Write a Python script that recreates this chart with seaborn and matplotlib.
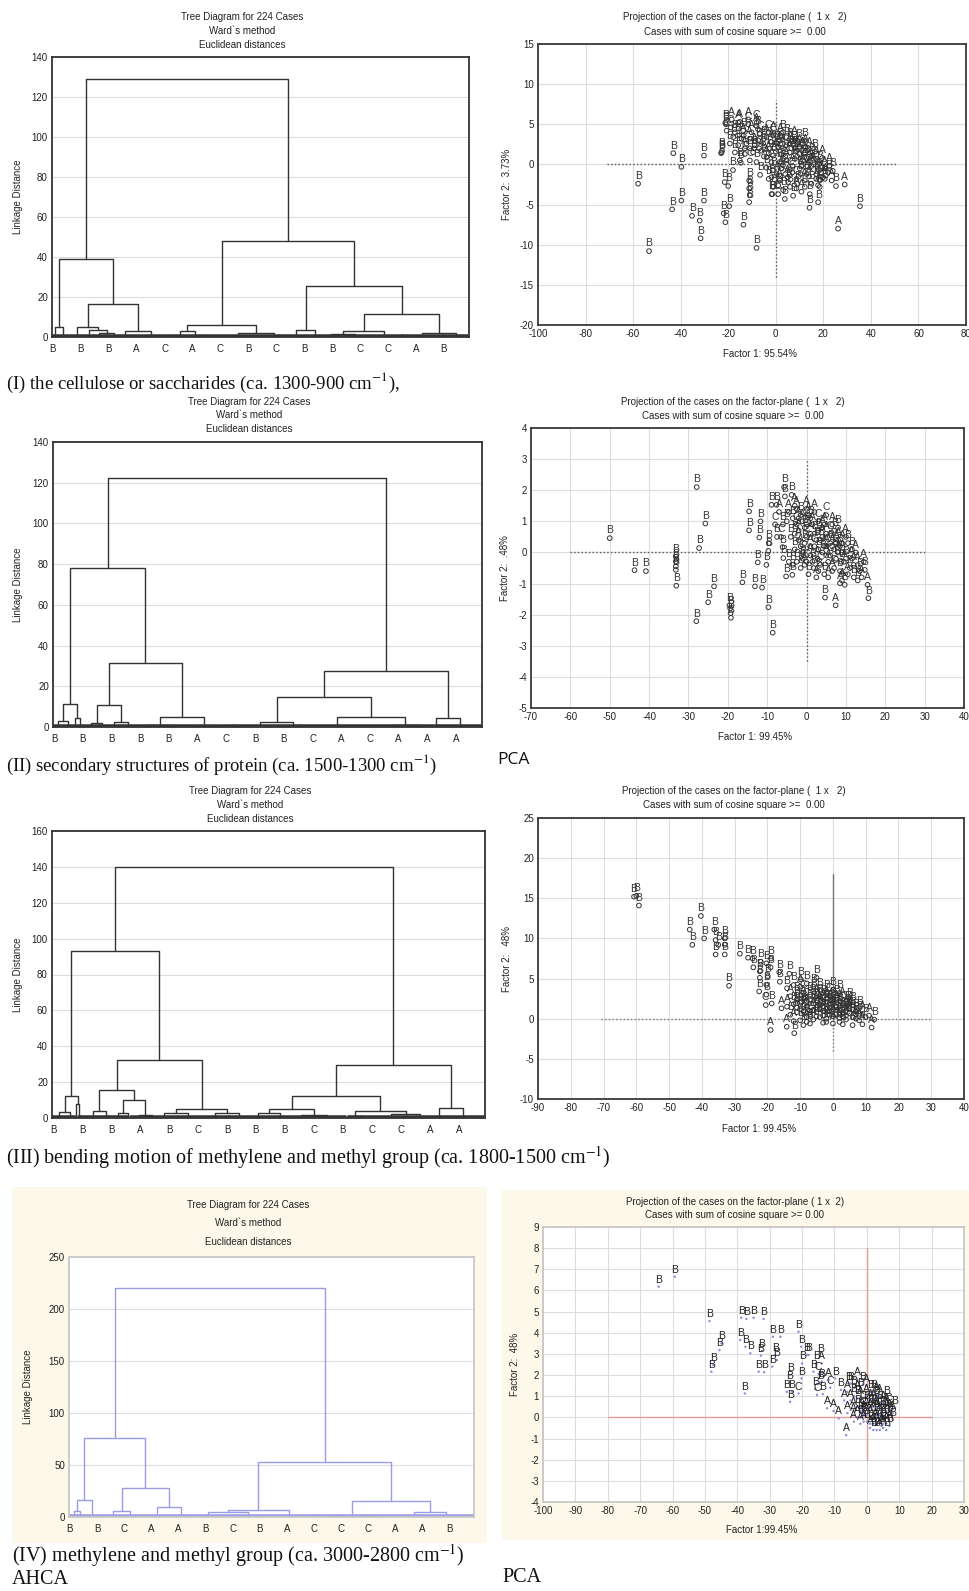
import numpy as np
import pandas as pd
import matplotlib
matplotlib.use('Agg')
import matplotlib.pyplot as plt
from matplotlib.patches import Rectangle
import seaborn as sns

# ---------------------------------------------------------------- data
# Dendrograms: node = (merge height, left, right); leaf = number of cases
TREE_I = (129.2,
          (39.0, (5.2, 3, 6),
                 (16.5, (5.0, 9, (3.5, 4, (2.0, 7, 9))), (3.2, 2, 26))),
          (48.0, (6.0, (3.0, 5, 12), (2.0, 34, 5)),
                 (25.3, (3.5, 18, 3),
                        (11.5, (3.0, (1.5, 14, 12), 19), (2.0, 22, 14)))))
TREE_II = (122.2,
           (78.3, (11.3, (3.1, 5, 6), (4.4, 1, 4)),
                  (31.2, (10.6, (1.8, 8, 3), (2.5, 10, 4)),
                         (5.0, (1.0, 16, 11), (0.5, 9, 17)))),
           (27.3, (14.7, (2.5, 28, 7), (5.0, 39, (1.0, 16, 15))),
                  (4.4, 2, 23)))
TREE_III = (140.1,
            (93.0, (12.1, (3.5, 7, 5), (8.0, 1, 2)),
                   (32.5, (15.8, (3.7, 12, 2), (9.8, (2.8, 10, 1), (1.9, 10, 3))),
                          (5.2, (2.8, 10, 15), (2.8, 13, 11)))),
            (29.5, (12.1, (5.2, (2.8, 9, 14), (1.9, 8, 19)),
                          (4.1, (1.0, 1, 16), (2.2, 13, 17))),
                   (5.6, 2, 23)))
TREE_IV = (220.0,
           (76.2, (16.6, (5.4, 5, 2), (1.0, 6, 4)),
                  (27.7, (5.4, 15, 4), (9.2, 25, 2))),
           (53.3, (7.0, (4.8, 28, 16), 29),
                  (15.0, (1.3, 15, 38), (4.8, 4, 31))))

LEAF_LAB_I = "BBBACACBCBBCCAB"
LEAF_LAB_II = "BBBBBACBBCACAAA"
LEAF_LAB_III = "BBBABCBBBCBCCAA"
LEAF_LAB_IV = "BBCAABCBACCCAAB"

# PCA score plots: (factor 1, factor 2, group)
PCA_I = [
    (-57.9, -2.4, 'B'), (-53.3, -10.8, 'B'), (-43.1, 1.4, 'B'), (-39.7, -0.3, 'B'),
    (-43.6, -5.6, 'B'), (-39.7, -4.5, 'B'), (-35.2, -6.4, 'B'), (-32.0, -7.0, 'B'),
    (-31.6, -9.2, 'B'), (-30.2, 1.1, 'B'), (-30.2, -4.5, 'B'), (-23.0, 1.4, 'B'),
    (-22.6, 1.7, 'B'), (-21.5, -2.2, 'B'), (-20.0, -2.7, 'B'), (-21.9, -6.1, 'B'),
    (-21.2, -7.2, 'B'), (-19.6, -5.2, 'B'), (-13.6, -7.5, 'B'), (-11.2, -4.7, 'B'),
    (-11.2, -2.0, 'B'), (-11.2, -3.0, 'B'), (-11.0, -3.8, 'B'), (-8.1, -10.4, 'B'),
    (-18.0, -0.7, 'B'), (-14.7, 0.2, 'B'), (-6.6, -1.3, 'B'), (26.2, -8.0, 'A'),
    (35.4, -5.2, 'B'), (29.0, -2.5, 'A'), (25.3, -2.7, 'B'), (14.2, -5.4, 'B'),
    (17.8, -4.7, 'B'), (-1.5, -3.7, 'B'), (-21.2, 5.2, 'B'), (-18.5, 5.6, 'A'),
    (-15.2, 5.3, 'A'), (-11.6, 5.6, 'A'), (-8.1, 5.2, 'C'),
    (-21.0, 5.0, 'B'), (-15.8, 5.2, 'A'), (-11.6, 5.0, 'C'), (-8.1, 4.8, 'A'),
    (-20.7, 4.2, 'C'), (-17.2, 4.0, 'B'), (-13.7, 4.2, 'B'), (-10.2, 4.0, 'A'),
    (-6.7, 3.8, 'C'), (-17.9, 3.4, 'B'), (-14.4, 3.2, 'C'), (-10.9, 3.2, 'A'),
    (-7.4, 3.0, 'B'), (-3.9, 3.4, 'A'), (-1.1, 3.6, 'C'), (-19.3, 2.6, 'B'),
    (-15.8, 2.4, 'B'), (-12.3, 2.6, 'C'), (-8.8, 2.4, 'A'), (-5.3, 2.6, 'B'),
    (-1.8, 2.8, 'A'), (1.7, 3.0, 'C'), (4.5, 3.4, 'B'), (-22.8, 1.5, 'B'),
    (-17.2, 1.5, 'B'), (-13.0, 1.3, 'C'), (-9.5, 1.5, 'B'), (-6.0, 1.7, 'A'),
    (-2.5, 2.0, 'B'), (1.0, 2.2, 'A'), (4.5, 2.4, 'C'), (7.3, 2.6, 'B'),
    (10.1, 2.2, 'A'), (-15.1, 0.5, 'B'), (-10.9, 0.5, 'C'), (-8.1, 0.3, 'B'),
    (-3.9, 0.9, 'A'), (-1.1, 1.1, 'B'), (2.4, 1.3, 'C'), (5.9, 1.5, 'A'),
    (8.7, 1.7, 'B'), (12.2, 1.5, 'A'), (15.0, 1.1, 'B'), (17.1, 0.7, 'A'),
    (-1.8, 0.3, 'C'), (1.7, 0.3, 'B'), (4.5, 0.5, 'A'), (8.0, 0.7, 'B'),
    (11.5, 0.5, 'C'), (14.3, 0.3, 'A'), (18.5, 0.1, 'B'), (20.6, -0.5, 'A'),
    (22.0, -1.0, 'B'), (-1.1, -0.7, 'B'), (2.4, -0.5, 'A'), (5.9, -0.7, 'C'),
    (10.1, -0.5, 'B'), (13.6, -0.7, 'A'), (17.1, -1.2, 'B'), (19.9, -1.6, 'A'),
    (18.5, -2.0, 'C'), (-1.8, -1.6, 'B'), (1.7, -2.0, 'A'), (5.2, -2.2, 'B'),
    (8.7, -1.8, 'C'), (12.2, -2.0, 'A'), (15.0, -2.4, 'B'), (17.8, -2.6, 'A'),
    (-1.1, -2.8, 'B'), (3.1, -3.2, 'B'), (7.3, -3.9, 'B'), (10.8, -3.4, 'A'),
    (14.3, -3.7, 'B'), (18.5, -2.8, 'B'), (-1.8, -3.7, 'B'), (1.0, -3.7, 'C'),
    (3.8, -4.3, 'B'), (8.7, -3.0, 'A'), (12.2, -2.8, 'C'), (20.6, -1.8, 'B'),
    (22.5, -0.2, 'A'), (24.0, -0.8, 'B'), (0.5, 2.6, 'B'), (3.0, 2.0, 'A'),
    (6.5, 2.0, 'B'), (9.0, 1.0, 'C'), (11.0, 1.8, 'A'), (13.0, 0.8, 'B'),
    (16.0, 0.0, 'A'), (6.0, 3.0, 'B'), (2.0, 3.6, 'A'), (-3.0, 4.0, 'C'),
    (-5.0, 3.2, 'B'), (9.5, 2.8, 'B'), (12.5, 2.2, 'A'), (16.5, 1.6, 'B'),
    (7.0, -0.2, 'A'), (4.0, -1.2, 'C'), (10.5, -1.2, 'B'), (0.5, -1.2, 'A'),
    (-4.0, -0.4, 'B'), (-9.0, 2.0, 'B'), (-13.5, 3.6, 'A'), (-7.5, 4.4, 'B'),
    (14.0, -1.5, 'A'), (19.5, 0.8, 'A'), (23.5, -2.0, 'A'),
    (0.0, 1.6, 'A'), (2.0, 2.6, 'B'), (4.0, 1.0, 'C'), (6.0, 2.6, 'A'),
    (8.0, 2.0, 'B'), (10.0, 1.3, 'A'), (12.0, 0.9, 'B'), (14.0, 1.9, 'A'),
    (16.0, 0.7, 'C'), (18.0, -0.6, 'A'), (3.0, -0.1, 'B'), (5.0, -1.6, 'A'),
    (7.0, -1.0, 'C'), (9.0, -2.4, 'B'), (11.0, -0.1, 'A'), (13.0, -1.2, 'B'),
    (15.0, -0.2, 'A'), (17.0, -1.8, 'B'), (19.0, -1.0, 'A'), (21.0, -1.4, 'A'),
    (1.0, -2.6, 'B'), (-3.0, 1.4, 'A'), (-5.0, 1.0, 'B'), (-7.0, 2.0, 'C'),
    (-11.0, 2.0, 'B'), (-13.0, 2.0, 'A'), (-16.0, 3.6, 'B'), (-19.0, 4.6, 'C'),
    (-3.0, -1.8, 'B'), (-1.0, 3.8, 'A'), (3.0, 4.0, 'B'), (8.0, 3.2, 'A'),
    (12.0, 3.0, 'B'), (6.0, -2.8, 'B'), (2.0, -1.4, 'C'),
]
PCA_II = [
    (-50.0, 0.46, 'B'), (-43.7, -0.57, 'B'), (-40.8, -0.60, 'B'), (-33.2, -0.13, 'B'),
    (-33.2, -0.29, 'B'), (-33.2, -0.45, 'B'), (-33.2, -0.56, 'B'), (-33.1, -1.07, 'B'),
    (-27.9, 2.10, 'B'), (-25.7, 0.93, 'B'), (-27.3, 0.14, 'B'), (-28.0, -2.21, 'B'),
    (-25.0, -1.60, 'B'), (-23.5, -1.09, 'B'), (-19.4, -1.80, 'B'), (-19.3, -1.95, 'B'),
    (-19.2, -2.10, 'B'), (-19.6, -1.70, 'B'), (-16.3, -0.96, 'B'), (-14.6, 1.32, 'B'),
    (-14.6, 0.71, 'B'), (-13.1, -1.09, 'B'), (-11.3, -1.13, 'B'), (-12.4, -0.32, 'B'),
    (-12.0, 0.48, 'B'), (-11.7, 1.00, 'B'), (-10.2, -0.40, 'B'), (-9.7, -1.76, 'B'),
    (-8.6, -2.58, 'B'), (-9.7, 0.05, 'B'), (-9.6, 0.30, 'B'), (-8.9, 1.53, 'B'),
    (-7.6, 1.53, 'B'), (-5.5, 1.80, 'B'), (-5.7, 2.10, 'B'), (-3.8, 1.85, 'B'),
    (-6.1, 0.17, 'B'), (-5.9, -0.18, 'B'), (-5.2, -0.77, 'B'), (-3.6, -0.72, 'B'),
    (4.7, -1.45, 'B'), (7.4, -1.70, 'A'), (15.7, -1.47, 'B'), (15.5, -1.04, 'A'),
    (14.8, -0.56, 'B'), (9.7, -1.04, 'B'), (8.5, -0.99, 'A'),
    (-4.5, 1.3, 'A'), (-3.0, 1.5, 'A'), (-1.5, 1.2, 'B'), (0.0, 1.4, 'A'),
    (1.0, 1.1, 'B'), (-2.5, 0.9, 'C'), (-0.5, 0.8, 'B'), (1.5, 0.9, 'A'),
    (3.0, 1.0, 'C'), (4.5, 0.9, 'A'), (-4.0, 0.5, 'B'), (-2.0, 0.4, 'A'),
    (0.0, 0.5, 'C'), (2.0, 0.6, 'B'), (4.0, 0.5, 'A'), (6.0, 0.6, 'C'),
    (8.0, 0.4, 'A'), (-3.0, 0.1, 'B'), (-1.0, 0.0, 'C'), (1.0, 0.2, 'A'),
    (3.0, 0.1, 'B'), (5.0, 0.2, 'A'), (7.0, 0.1, 'B'), (9.0, 0.0, 'A'),
    (10.5, 0.3, 'B'), (-2.5, -0.3, 'B'), (-0.5, -0.4, 'A'), (1.5, -0.3, 'B'),
    (3.5, -0.4, 'C'), (5.5, -0.3, 'A'), (7.5, -0.2, 'B'), (9.5, -0.3, 'A'),
    (11.5, -0.2, 'A'), (13.0, -0.4, 'A'), (0.5, -0.7, 'B'), (2.5, -0.8, 'A'),
    (4.5, -0.7, 'B'), (6.5, -0.6, 'A'), (8.5, -0.6, 'B'), (10.5, -0.7, 'A'),
    (12.0, -0.8, 'B'), (-1.5, -0.5, 'B'), (-3.5, -0.4, 'B'), (-5.0, 1.0, 'B'),
    (-6.5, 0.5, 'C'), (-7.5, 0.5, 'B'), (-8.0, 0.9, 'C'), (-7.0, 1.3, 'A'),
    (-3.5, 1.1, 'B'), (2.0, 1.3, 'A'), (5.0, 1.2, 'C'), (6.5, 0.9, 'A'),
    (8.0, 0.8, 'B'), (10.0, 0.5, 'A'), (11.5, 0.1, 'B'), (1.0, -0.1, 'A'),
    (3.5, 0.4, 'B'), (6.0, -0.1, 'C'), (-2.0, 0.7, 'A'), (-0.5, 0.3, 'B'),
    (2.8, -0.2, 'A'), (4.0, 0.0, 'B'), (5.0, 0.6, 'A'), (7.5, 0.3, 'A'),
    (8.8, -0.3, 'B'), (0.0, -0.3, 'C'), (-1.0, 1.0, 'A'), (3.0, 0.7, 'B'),
    (9.0, -0.9, 'A'), (13.5, -0.6, 'B'), (12.5, 0.0, 'A'), (14.5, -0.3, 'A'),
    (-2.0, 1.1, 'A'), (0.0, 0.9, 'B'), (2.0, 0.2, 'C'), (4.0, 0.8, 'A'),
    (6.0, 0.3, 'B'), (8.0, 0.0, 'A'), (10.0, -0.2, 'B'), (12.0, -0.4, 'A'),
    (-1.0, -0.2, 'B'), (1.0, 0.6, 'A'), (3.0, -0.6, 'B'), (5.0, -0.1, 'A'),
    (7.0, -0.5, 'C'), (9.0, 0.3, 'A'), (11.0, -0.5, 'B'), (0.5, 1.2, 'A'),
    (2.5, 0.4, 'B'), (4.5, 0.2, 'A'), (6.5, 0.2, 'A'), (8.5, 0.2, 'B'),
    (-3.0, 0.6, 'B'), (-1.5, 0.2, 'A'), (1.8, -0.5, 'B'), (5.5, -0.8, 'A'),
    (7.0, 0.7, 'B'), (13.0, -0.9, 'B'), (14.0, -0.8, 'A'), (-4.5, -0.3, 'B'),
    (-6.0, 0.9, 'B'), (-2.5, 1.4, 'A'),
]
PCA_III = [
    (-60.7, 15.2, 'B'), (-60.0, 15.3, 'B'), (-59.2, 14.1, 'B'), (-40.3, 12.8, 'B'),
    (-43.7, 11.1, 'B'), (-42.9, 9.2, 'B'), (-39.3, 10.0, 'B'), (-36.2, 11.1, 'B'),
    (-35.8, 9.8, 'B'), (-35.8, 8.0, 'B'), (-35.0, 9.2, 'B'), (-33.0, 10.0, 'B'),
    (-33.0, 9.2, 'B'), (-33.0, 8.0, 'B'), (-28.4, 8.1, 'B'), (-25.9, 7.6, 'B'),
    (-24.5, 7.5, 'B'), (-24.3, 6.4, 'B'), (-31.7, 4.1, 'B'), (-22.0, 7.1, 'B'),
    (-20.3, 6.9, 'B'), (-18.9, 7.5, 'B'), (-19.0, 6.4, 'B'), (-22.3, 5.9, 'B'),
    (-22.3, 5.1, 'B'), (-22.5, 3.4, 'B'), (-19.9, 5.3, 'B'), (-20.3, 4.2, 'B'),
    (-20.3, 3.0, 'B'), (-20.5, 1.7, 'C'), (-18.7, 1.9, 'B'), (-16.4, 5.8, 'B'),
    (-13.3, 5.6, 'B'), (-16.2, 4.6, 'B'), (-19.0, -1.4, 'A'), (-15.7, 1.3, 'A'),
    (-9.8, 4.9, 'B'), (-5.0, 5.1, 'B'), (-11.8, -1.8, 'B'), (-14.1, -1.0, 'A'),
    (4.5, 1.9, 'B'), (12.6, -0.1, 'B'), (11.8, -1.1, 'A'),
    (-14.0, 3.8, 'B'), (-12.0, 4.2, 'B'), (-10.0, 4.0, 'A'), (-8.0, 4.4, 'B'),
    (-6.0, 4.0, 'B'), (-4.0, 3.5, 'B'), (-2.0, 3.3, 'B'), (0.0, 3.6, 'B'),
    (2.0, 3.2, 'B'), (-13.0, 2.8, 'A'), (-11.0, 3.0, 'B'), (-9.0, 3.2, 'C'),
    (-7.0, 3.0, 'B'), (-5.0, 2.8, 'A'), (-3.0, 2.6, 'B'), (-1.0, 2.9, 'C'),
    (1.0, 2.6, 'B'), (3.0, 2.4, 'A'), (5.0, 2.2, 'B'), (-14.0, 1.5, 'A'),
    (-12.0, 1.8, 'B'), (-10.0, 2.0, 'B'), (-8.0, 2.2, 'C'), (-6.0, 1.9, 'B'),
    (-4.0, 1.7, 'A'), (-2.0, 2.0, 'B'), (0.0, 1.8, 'C'), (2.0, 1.6, 'B'),
    (4.0, 1.5, 'A'), (6.0, 1.7, 'B'), (8.0, 1.3, 'B'), (-13.0, 0.5, 'B'),
    (-11.0, 0.8, 'A'), (-9.0, 0.9, 'B'), (-7.0, 1.0, 'C'), (-5.0, 0.8, 'B'),
    (-3.0, 1.0, 'A'), (-1.0, 0.9, 'B'), (1.0, 1.1, 'C'), (3.0, 0.8, 'B'),
    (5.0, 0.7, 'A'), (7.0, 0.9, 'B'), (9.0, 0.6, 'A'), (10.0, 0.2, 'B'),
    (-12.0, -0.3, 'A'), (-10.0, -0.2, 'B'), (-8.0, 0.2, 'B'), (-6.0, -0.1, 'A'),
    (-4.0, 0.2, 'C'), (-2.0, 0.0, 'B'), (0.0, 0.3, 'A'), (2.0, 0.1, 'B'),
    (4.0, -0.1, 'C'), (6.0, 0.2, 'B'), (8.0, -0.2, 'A'), (-7.0, -0.6, 'B'),
    (-3.0, -0.5, 'B'), (0.0, -0.6, 'A'), (3.0, -0.7, 'B'), (6.0, -0.8, 'B'),
    (9.0, -0.7, 'A'), (-1.0, 1.4, 'B'), (1.0, 2.0, 'A'), (-3.0, 1.5, 'C'),
    (-5.0, 2.3, 'B'), (-8.0, 1.5, 'A'), (-6.0, 3.4, 'B'), (-2.0, 2.5, 'A'),
    (2.0, 0.5, 'A'), (4.0, 1.0, 'C'), (-10.0, 1.2, 'B'), (-9.0, -0.8, 'B'),
    (7.0, 0.0, 'A'), (11.0, 0.4, 'A'),
    (-11.0, 2.4, 'B'), (-9.0, 2.6, 'A'), (-7.0, 2.4, 'B'), (-5.0, 1.4, 'B'),
    (-3.0, 2.1, 'A'), (-1.0, 1.9, 'B'), (1.0, 1.5, 'B'), (3.0, 1.9, 'C'),
    (5.0, 1.3, 'B'), (-11.0, 1.4, 'A'), (-9.0, 1.6, 'B'), (-7.0, 0.5, 'C'),
    (-5.0, 0.3, 'B'), (-3.0, 0.4, 'A'), (-1.0, 0.5, 'B'), (1.0, 0.5, 'C'),
    (3.0, 0.3, 'B'), (5.0, 1.2, 'A'), (7.0, 0.5, 'B'), (-6.0, 1.1, 'A'),
    (-4.0, 1.2, 'B'), (-2.0, 1.2, 'B'), (0.0, 1.2, 'A'), (2.0, 1.2, 'B'),
    (0.0, 2.4, 'B'), (-2.0, -0.4, 'B'), (2.0, -0.4, 'A'), (4.0, 0.4, 'B'),
    (-8.0, -0.4, 'A'), (6.0, 1.1, 'B'), (8.0, 0.6, 'B'), (-4.0, 2.8, 'B'),
]
PCA_IV = [
    (-64.3, 6.18, 'B'), (-59.3, 6.65, 'B'), (-48.6, 4.55, 'B'), (-45.5, 3.18, 'B'),
    (-44.9, 3.50, 'B'), (-48.0, 2.16, 'B'), (-47.4, 2.47, 'B'), (-38.8, 4.71, 'B'),
    (-37.2, 4.65, 'B'), (-35.0, 4.71, 'B'), (-31.9, 4.65, 'B'), (-39.1, 3.66, 'B'),
    (-37.5, 3.34, 'B'), (-36.0, 3.03, 'B'), (-32.4, 3.14, 'B'), (-32.7, 2.92, 'B'),
    (-29.0, 3.81, 'B'), (-26.7, 3.81, 'B'), (-28.3, 2.95, 'B'), (-27.8, 2.71, 'B'),
    (-29.2, 2.40, 'B'), (-33.4, 2.16, 'B'), (-31.7, 2.13, 'B'), (-37.7, 1.13, 'B'),
    (-21.1, 4.05, 'B'), (-20.3, 3.34, 'B'), (-18.5, 2.95, 'B'), (-18.0, 2.95, 'B'),
    (-20.0, 2.55, 'B'), (-20.2, 1.84, 'B'), (-23.9, 1.65, 'B'), (-23.7, 2.00, 'B'),
    (-24.7, 1.21, 'B'), (-23.1, 1.21, 'B'), (-21.1, 1.13, 'C'), (-23.7, 0.74, 'B'),
    (-15.6, 2.55, 'B'), (-13.9, 2.55, 'A'), (-14.4, 2.90, 'B'), (-16.5, 2.16, 'B'),
    (-14.9, 2.05, 'C'), (-11.8, 1.77, 'A'), (-9.8, 1.84, 'B'), (-14.4, 1.65, 'B'),
    (-13.9, 1.70, 'B'), (-11.3, 1.40, 'C'), (-15.9, 1.34, 'B'), (-15.4, 1.06, 'C'),
    (-13.6, 1.10, 'B'), (-12.3, 0.43, 'A'), (-10.3, 0.30, 'A'), (-8.7, -0.05, 'A'),
    (-6.4, -0.84, 'A'), (-1.2, 1.56, 'B'), (-5.7, 1.60, 'B'), (7.0, 0.50, 'C'),
    (8.7, 0.45, 'B'), (-4.1, 0.10, 'A'),
    (-6.0, 1.2, 'A'), (-4.0, 1.4, 'B'), (-2.0, 1.3, 'B'), (0.0, 1.0, 'A'),
    (-5.0, 0.8, 'A'), (-3.0, 0.9, 'B'), (-1.0, 0.7, 'C'), (1.0, 0.8, 'A'),
    (3.0, 0.9, 'B'), (5.0, 0.7, 'A'), (-4.0, 0.4, 'A'), (-2.0, 0.3, 'B'),
    (0.0, 0.4, 'A'), (2.0, 0.5, 'B'), (4.0, 0.4, 'C'), (6.0, 0.3, 'A'),
    (-3.0, 0.0, 'A'), (-1.0, 0.1, 'B'), (1.0, 0.0, 'A'), (3.0, 0.1, 'B'),
    (5.0, 0.0, 'A'), (7.0, 0.1, 'B'), (-2.0, -0.3, 'A'), (0.0, -0.2, 'B'),
    (2.0, -0.3, 'A'), (4.0, -0.2, 'B'), (6.0, -0.3, 'A'), (8.0, -0.1, 'B'),
    (1.0, -0.5, 'A'), (3.0, -0.6, 'B'), (5.0, -0.5, 'A'), (-5.0, 1.6, 'B'),
    (-3.0, 1.8, 'A'), (-7.0, 0.8, 'A'), (-8.0, 1.3, 'B'), (2.0, 1.2, 'B'),
    (4.0, 1.0, 'A'), (6.0, 0.9, 'B'), (0.0, 1.5, 'A'), (-1.0, 0.4, 'C'),
    (1.0, 0.3, 'A'), (3.0, 0.5, 'A'), (5.0, 0.2, 'B'), (2.5, -0.1, 'A'),
    (4.5, -0.4, 'A'), (7.0, -0.4, 'B'), (-6.0, 0.2, 'A'), (-4.0, -0.2, 'A'),
    (6.5, 0.6, 'C'),
    (-4.0, 1.0, 'B'), (-2.0, 0.9, 'A'), (0.0, 0.7, 'B'), (2.0, 0.8, 'A'),
    (4.0, 0.7, 'B'), (6.0, 0.6, 'A'), (-3.0, 0.5, 'B'), (-1.0, 0.2, 'A'),
    (1.0, 0.5, 'B'), (3.0, 0.3, 'A'), (5.0, 0.4, 'B'), (7.0, 0.3, 'A'),
    (-2.0, 0.0, 'B'), (0.0, 0.1, 'A'), (2.0, 0.1, 'C'), (4.0, 0.1, 'A'),
    (6.0, 0.0, 'B'), (8.0, 0.2, 'A'), (-1.0, -0.2, 'A'), (1.0, -0.3, 'B'),
    (3.0, -0.3, 'A'), (5.0, -0.3, 'B'), (7.0, -0.2, 'A'), (2.0, -0.6, 'B'),
    (4.0, -0.6, 'A'), (6.0, -0.6, 'B'), (-3.0, 1.2, 'A'), (1.0, 1.2, 'B'),
    (3.0, 1.1, 'A'),
]

# ---------------------------------------------------------------- style
sns.set_theme(style='white')
plt.rcParams['font.family'] = ['Liberation Sans', 'DejaVu Sans']
plt.rcParams['axes.unicode_minus'] = False
plt.rcParams['mathtext.fontset'] = 'stix'

W, H = 970, 1591
fig = plt.figure(figsize=(W / 100, H / 100), dpi=100)
fig.patch.set_facecolor('white')

BEIGE = '#fcf8ea'
fig.patches.append(Rectangle((12 / W, 1 - 1543 / H), (487 - 12) / W, (1543 - 1187) / H,
                             transform=fig.transFigure, facecolor=BEIGE, edgecolor='none', zorder=-5))
fig.patches.append(Rectangle((502 / W, 1 - 1540 / H), (970 - 502) / W, (1540 - 1190) / H,
                             transform=fig.transFigure, facecolor=BEIGE, edgecolor='none', zorder=-5))


def px_axes(x0, y0, x1, y1):
    return fig.add_axes([x0 / W, 1 - y1 / H, (x1 - x0) / W, (y1 - y0) / H])


def ftext(x, y, s, **kw):
    fig.text(x / W, 1 - y / H, s, **kw)


def style_frame(ax, col='#3a3a3a', lw=1.3):
    for sp in ax.spines.values():
        sp.set_visible(True)
        sp.set_color(col)
        sp.set_linewidth(lw)
    ax.tick_params(length=0, pad=3, labelsize=7, colors='#222222')


def dendro_frame(tree):
    segs, leaves = [], []

    def walk(node, start):
        if isinstance(node, int):
            s, e = start, start + node - 1
            leaves.append((s, e))
            return (s + e) / 2, 0.0, start + node
        h, l, r = node
        cl, hl, nxt = walk(l, start)
        cr, hr, nxt = walk(r, nxt)
        segs.append([(cl, hl), (cl, h), (cr, h), (cr, hr)])
        return (cl + cr) / 2, h, nxt

    walk(tree, 1)
    return segs, leaves


def dendro_panel(box, tree, labels, ymax, ystep, col, frame_col, title_xy, ylab_x):
    ax = px_axes(*box)
    ax.set_facecolor('white')
    segs, leaves = dendro_frame(tree)
    rows = []
    for i, sg in enumerate(segs):
        for k, (x, y) in enumerate(sg):
            rows.append(dict(seg=i, k=k, x=x, y=y))
    df = pd.DataFrame(rows)
    sns.lineplot(data=df, x='x', y='y', units='seg', estimator=None, sort=False,
                 color=col, linewidth=1.0, ax=ax, legend=False)
    base = ymax * 0.006
    crows = []
    for j, (s, e) in enumerate(leaves):
        if e > s:
            crows += [dict(seg=j, x=s - 0.3, y=base), dict(seg=j, x=e + 0.3, y=base)]
    cdf = pd.DataFrame(crows)
    sns.lineplot(data=cdf, x='x', y='y', units='seg', estimator=None, sort=False,
                 color=col, linewidth=1.8, ax=ax, legend=False)
    ax.set_xlim(0.5, 224.5)
    ax.set_ylim(0, ymax)
    ax.set_yticks(np.arange(0, ymax + 1, ystep))
    ax.set_xticks(np.arange(1, 212, 15))
    ax.set_xticklabels(list(labels))
    ax.set_xlabel('')
    ax.set_ylabel('')
    ax.grid(True, axis='y', color='#dddddd', linewidth=0.8)
    ax.set_axisbelow(True)
    style_frame(ax, frame_col)
    ax.tick_params(axis='x', pad=5)
    tx, ty = title_xy
    for i, t in enumerate(["Tree Diagram for 224 Cases", "Ward`s method", "Euclidean distances"]):
        ftext(tx, ty[i], t, ha='center', va='center', fontsize=7, color='#222222')
    ftext(ylab_x, (box[1] + box[3]) / 2, "Linkage Distance", rotation=90,
          ha='center', va='center', fontsize=7, color='#222222')
    return ax


def pca_panel(box, pts, xlim, xstep, ylim, ystep, titles, title_x, title_y, xlab, xlab_y,
              ylab, ylab_x, vline, hline, line_col, mk_col, mk_kind):
    ax = px_axes(*box)
    ax.set_facecolor('white')
    df = pd.DataFrame(pts, columns=['f1', 'f2', 'grp'])
    ax.grid(True, color='#dddddd', linewidth=0.8)
    ax.set_axisbelow(True)
    for (x0, x1, y0, y1, ls) in vline + hline:
        ax.plot([x0, x1], [y0, y1], color=line_col, linestyle=ls, linewidth=1.0, zorder=1.5)
    if mk_kind == 'open':
        sns.scatterplot(data=df, x='f1', y='f2', marker='o', s=11, facecolor='none',
                        edgecolor=mk_col, linewidth=0.7, ax=ax, zorder=3)
        lab_col, off, fs = '#333333', 5.5, 7.5
    else:
        sns.scatterplot(data=df, x='f1', y='f2', marker='o', s=3, color=mk_col,
                        edgecolor='none', ax=ax, zorder=3)
        lab_col, off, fs = '#222222', 5.0, 7.5
    for _, r in df.iterrows():
        ax.annotate(r['grp'], (r['f1'], r['f2']), xytext=(0, off), textcoords='offset points',
                    ha='center', va='center', fontsize=fs, color=lab_col, zorder=4)
    ax.set_xlim(*xlim)
    ax.set_ylim(*ylim)
    ax.set_xticks(np.arange(xlim[0], xlim[1] + 0.1, xstep))
    ax.set_yticks(np.arange(ylim[0], ylim[1] + 0.01, ystep))
    ax.set_xlabel('')
    ax.set_ylabel('')
    style_frame(ax, '#3a3a3a' if mk_kind == 'open' else '#c8c8c8')
    for i, t in enumerate(titles):
        ftext(title_x, title_y[i], t, ha='center', va='center', fontsize=7, color='#222222')
    ftext((box[0] + box[2]) / 2 + 8, xlab_y, xlab, ha='center', va='center', fontsize=7, color='#222222')
    ftext(ylab_x, (box[1] + box[3]) / 2, ylab, rotation=90, ha='center', va='center',
          fontsize=7, color='#222222')
    return ax


DK = '#333333'
dendro_panel((52, 57, 469, 337), TREE_I, LEAF_LAB_I, 140, 20, DK, DK, (242, (17, 31, 45)), 18)
dendro_panel((53, 442, 482, 727), TREE_II, LEAF_LAB_II, 140, 20, DK, DK, (249, (402, 415, 429)), 18)
dendro_panel((52, 831, 485, 1118), TREE_III, LEAF_LAB_III, 160, 20, DK, DK, (250, (791, 805, 819)), 18)
dendro_panel((69, 1257, 474, 1517), TREE_IV, LEAF_LAB_IV, 250, 50, '#9c9ce4', '#c8c8c8',
             (248, (1205, 1223, 1242)), 28)

T1 = ["Projection of the cases on the factor-plane (  1 x   2)",
      "Cases with sum of cosine square >=  0.00"]
pca_panel((538, 44, 966, 325), PCA_I, (-100, 80), 20, (-20, 15), 5, T1, 735, (17, 32),
          "Factor 1: 95.54%", 354, "Factor 2:  3.73%", 507,
          [(0, 0, -14, 8, ':')], [(-71, 50.5, 0, 0, ':')], '#555555', DK, 'open')
pca_panel((531, 428, 964, 708), PCA_II, (-70, 40), 10, (-5, 4), 1, T1, 733, (402, 416),
          "Factor 1: 99.45%", 737, "Factor 2:  .48%", 505,
          [(0, 0, -3.5, 3.0, ':')], [(-60, 30, 0, 0, ':')], '#555555', DK, 'open')
pca_panel((538, 818, 964, 1099), PCA_III, (-90, 40), 10, (-10, 25), 5, T1, 734, (791, 805),
          "Factor 1: 99.45%", 1129, "Factor 2:   48%", 507,
          [(0, 0, 0, 18, '-'), (0, 0, -4, 0, ':')], [(-70.7, 30, 0, 0, ':')], '#777777', DK, 'open')
T4 = ["Projection of the cases on the factor-plane ( 1 x  2)",
      "Cases with sum of cosine square >= 0.00"]
pca_panel((543, 1227, 964, 1502), PCA_IV, (-100, 30), 10, (-4, 9), 1, T4, 735, (1202, 1215),
          "Factor 1:99.45%", 1530, "Factor 2:  48%", 515,
          [(0, 0, -2, 8, '-')], [(-80, 20, 0, 0, '-')], '#e89a9a', '#8c8cd8', 'dot')

# ---------------------------------------------------------------- captions
SERIF = ['Liberation Serif', 'DejaVu Serif']
ftext(6, 383, r"(I) the cellulose or saccharides (ca. 1300-900 cm$^{-1}$),", family=SERIF,
      fontsize=13.5, va='center', ha='left', color='#111111')
ftext(6, 765, r"(II) secondary structures of protein (ca. 1500-1300 cm$^{-1}$)", family=SERIF,
      fontsize=13.5, va='center', ha='left', color='#111111')
ftext(497, 760, "PCA", family=['Open Sans', 'DejaVu Sans'], fontsize=12.5, va='center', ha='left',
      color='#111111')
ftext(6, 1158, r"(III) bending motion of methylene and methyl group (ca. 1800-1500 cm$^{-1}$)",
      family=SERIF, fontsize=14.5, va='center', ha='left', color='#111111')
ftext(12, 1556, r"(IV) methylene and methyl group (ca. 3000-2800 cm$^{-1}$)", family=SERIF,
      fontsize=14.5, va='center', ha='left', color='#111111')
ftext(12, 1579, "AHCA", family=SERIF, fontsize=14.5, va='center', ha='left', color='#111111')
ftext(502, 1577, "PCA", family=SERIF, fontsize=14.5, va='center', ha='left', color='#111111')

fig.savefig('out.png', dpi=100)
